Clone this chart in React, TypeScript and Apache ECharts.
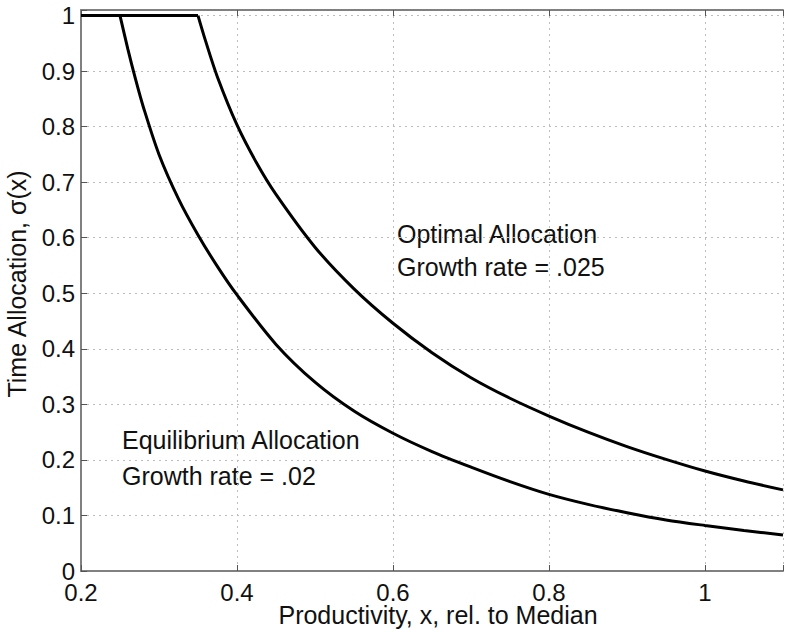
import React, { useEffect, useRef } from "react";
import * as echarts from "echarts";

// Equilibrium allocation (growth rate .02)
const equilibriumX = [0.2, 0.25, 0.26, 0.27, 0.28, 0.3, 0.325, 0.35, 0.375, 0.4, 0.45, 0.5, 0.55, 0.6, 0.65, 0.7, 0.75, 0.8, 0.85, 0.9, 0.95, 1.0, 1.05, 1.1];
const equilibriumY = [1, 1, 0.94, 0.885, 0.835, 0.75, 0.67, 0.605, 0.548, 0.497, 0.408, 0.34, 0.288, 0.248, 0.215, 0.187, 0.161, 0.138, 0.12, 0.105, 0.092, 0.082, 0.073, 0.065];

// Optimal allocation (growth rate .025)
const optimalX = [0.2, 0.35, 0.36, 0.375, 0.4, 0.425, 0.45, 0.5, 0.55, 0.6, 0.65, 0.7, 0.75, 0.8, 0.85, 0.9, 0.95, 1.0, 1.05, 1.1];
const optimalY = [1, 1, 0.953, 0.889, 0.803, 0.735, 0.678, 0.583, 0.508, 0.446, 0.393, 0.348, 0.311, 0.279, 0.25, 0.224, 0.201, 0.18, 0.162, 0.146];

const xTickLabels = ["0.2", "0.4", "0.6", "0.8", "1"];
const yTickLabels = ["0", "0.1", "0.2", "0.3", "0.4", "0.5", "0.6", "0.7", "0.8", "0.9", "1"];

const xTitle = "Productivity, x, rel. to Median";
const yTitle = "Time Allocation, σ(x)";
const optimalLabel = ["Optimal Allocation", "Growth rate = .025"];
const equilibriumLabel = ["Equilibrium Allocation", "Growth rate = .02"];

const FONT = "'Liberation Sans', Arial, Helvetica, sans-serif";
const AXIS_COLOR = "#808080";
const GRID_COLOR = "#bdbdbd";

function fmtX(v: number): string {
  const k = v / 0.2;
  if (Math.abs(k - Math.round(k)) > 1e-6) return "";
  const s = String(parseFloat(v.toFixed(2)));
  return xTickLabels.includes(s) ? s : "";
}
function fmtY(v: number): string {
  const k = v / 0.1;
  if (Math.abs(k - Math.round(k)) > 1e-6) return "";
  const s = String(parseFloat(v.toFixed(2)));
  return yTickLabels.includes(s) ? s : "";
}

// split a capped curve into its flat (y = 1) part and its falling part
function splitCurve(xs: number[], ys: number[]) {
  let k = 0;
  while (k + 1 < ys.length && ys[k + 1] >= 1) k++;
  const pts = xs.map((x, i) => [x, ys[i]]);
  return { flat: pts.slice(0, k + 1), fall: pts.slice(k) };
}

export default function App() {
  const ref = useRef<HTMLDivElement>(null);
  useEffect(() => {
    document.body.style.margin = "0";
    if (!ref.current) return;
    const chart = echarts.init(ref.current, null, { renderer: "svg" });
    const eq = splitCurve(equilibriumX, equilibriumY);
    const op = splitCurve(optimalX, optimalY);
    const textStyle = { fontFamily: FONT, fontSize: 25, fill: "#111" };
    const lineSeries = (name: string, data: number[][], smooth: number | boolean) => ({
      name,
      type: "line",
      data,
      showSymbol: false,
      smooth,
      lineStyle: { color: "#000", width: 3 },
      clip: true,
    });
    chart.setOption({
      animation: false,
      backgroundColor: "#ffffff",
      grid: { left: 81, top: 10, right: -5, bottom: 60, containLabel: false },
      xAxis: [
        {
          type: "value",
          min: 0.2,
          max: 1.1,
          interval: 0.2,
          axisLine: { show: true, lineStyle: { color: AXIS_COLOR, width: 2 } },
          axisTick: { show: true, inside: true, length: 6, lineStyle: { color: "#555", width: 1 } },
          axisLabel: { formatter: fmtX, color: "#111", fontSize: 24, fontFamily: FONT, margin: 9 },
          splitLine: { show: true, lineStyle: { color: GRID_COLOR, type: [2, 4], width: 1 } },
        },
        {
          type: "value",
          position: "top",
          min: 0.2,
          max: 1.1,
          interval: 0.2,
          axisLine: { show: true, lineStyle: { color: AXIS_COLOR, width: 2 } },
          axisTick: { show: true, inside: true, length: 6, lineStyle: { color: "#555", width: 1 } },
          axisLabel: { show: false },
          splitLine: { show: false },
        },
      ],
      yAxis: {
        type: "value",
        min: 0,
        max: 1.01,
        interval: 0.1,
        axisLine: { show: true, lineStyle: { color: AXIS_COLOR, width: 2 } },
        axisTick: { show: true, inside: true, length: 6, lineStyle: { color: "#555", width: 1 } },
        axisLabel: { formatter: fmtY, color: "#111", fontSize: 24, fontFamily: FONT, margin: 6 },
        splitLine: { show: true, lineStyle: { color: GRID_COLOR, type: [2, 4], width: 1 } },
      },
      series: [
        lineSeries("Equilibrium Allocation", eq.flat, false),
        lineSeries("Equilibrium Allocation", eq.fall, 0.3),
        lineSeries("Optimal Allocation", op.flat, false),
        lineSeries("Optimal Allocation", op.fall, 0.3),
      ],
      graphic: [
        { type: "text", x: 397, y: 234, style: { ...textStyle, text: optimalLabel[0], verticalAlign: "middle" } },
        { type: "text", x: 397, y: 267, style: { ...textStyle, text: optimalLabel[1], verticalAlign: "middle" } },
        { type: "text", x: 122, y: 440, style: { ...textStyle, text: equilibriumLabel[0], verticalAlign: "middle" } },
        { type: "text", x: 122, y: 476, style: { ...textStyle, text: equilibriumLabel[1], verticalAlign: "middle" } },
        { type: "text", x: 438, y: 615, style: { ...textStyle, text: xTitle, align: "center", verticalAlign: "middle" } },
        { type: "text", x: 17, y: 284, rotation: Math.PI / 2, style: { ...textStyle, text: yTitle, align: "center", verticalAlign: "middle" } },
      ],
    });
    return () => chart.dispose();
  }, []);
  return <div ref={ref} style={{ width: 786, height: 631 }} />;
}
